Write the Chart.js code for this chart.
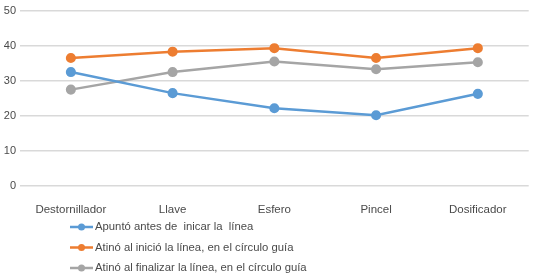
<!DOCTYPE html>
<html lang="es">
<head>
  <meta charset="UTF-8" />
  <title>Chart</title>
  <script src="https://cdn.jsdelivr.net/npm/chart.js"></script>
  <style>
    body { margin: 0; background: #fff; }
    .wrap { width: 535px; height: 278px; }
  </style>
</head>
<body>
  <div class="wrap"><canvas id="chart" width="535" height="278"></canvas></div>

  <script>
    const categories = ["Destornillador", "Llave", "Esfero", "Pincel", "Dosificador"];
    const seriesNames = [
      "Apuntó antes de  inicar la  línea",
      "Atinó al inició la línea, en el círculo guía",
      "Atinó al finalizar la línea, en el círculo guía"
    ];
    const apunto = [32.5, 26.5, 22.2, 20.2, 26.3];
    const inicio = [36.5, 38.3, 39.3, 36.5, 39.3];
    const finalizo = [27.5, 32.5, 35.5, 33.3, 35.3];
    const yTicks = [0, 10, 20, 30, 40, 50];
    const colors = ["#5B9BD5", "#ED7D31", "#A5A5A5"];

    const FONT = "'Liberation Sans', Arial, sans-serif";
    const TEXT = "#4a4a4a";

    // legend drawn one item per row, left aligned, under the axis
    const listLegend = {
      id: "listLegend",
      afterDraw(chart) {
        const ctx = chart.ctx;
        ctx.save();
        ctx.font = "11.3px " + FONT;
        ctx.textBaseline = "middle";
        chart.data.datasets.forEach((ds, i) => {
          const y = 227 + i * 20.5;
          ctx.strokeStyle = ds.borderColor;
          ctx.lineWidth = 2.5;
          ctx.beginPath();
          ctx.moveTo(70, y);
          ctx.lineTo(93, y);
          ctx.stroke();
          ctx.fillStyle = ds.borderColor;
          ctx.beginPath();
          ctx.arc(81.5, y, 3.5, 0, Math.PI * 2);
          ctx.fill();
          ctx.fillStyle = TEXT;
          ctx.fillText(ds.label, 95, y);
        });
        ctx.restore();
      }
    };

    const makeSet = (i, data) => ({
      label: seriesNames[i],
      data: data,
      borderColor: colors[i],
      backgroundColor: colors[i],
      borderWidth: 2.5,
      pointRadius: 3.8,
      pointHoverRadius: 3.8,
      tension: 0
    });

    new Chart(document.getElementById("chart"), {
      type: "line",
      data: {
        labels: categories,
        datasets: [makeSet(0, apunto), makeSet(1, inicio), makeSet(2, finalizo)]
      },
      options: {
        responsive: false,
        animation: false,
        layout: { padding: { top: 9, right: 3, bottom: 44, left: 0 } },
        plugins: { legend: { display: false }, tooltip: { enabled: false } },
        scales: {
          x: {
            offset: true,
            grid: { display: false, drawTicks: false },
            border: { display: false },
            ticks: { color: TEXT, font: { family: FONT, size: 11.5 }, padding: 17, maxRotation: 0 }
          },
          y: {
            min: yTicks[0],
            max: yTicks[yTicks.length - 1],
            afterBuildTicks: s => { s.ticks = yTicks.map(v => ({ value: v })); },
            afterFit: s => { s.width = 20; },
            grid: { color: "#D9D9D9", lineWidth: 1.5, drawTicks: false },
            border: { display: false },
            ticks: { color: TEXT, font: { family: FONT, size: 11 }, padding: 4 }
          }
        }
      },
      plugins: [listLegend]
    });
  </script>
</body>
</html>
